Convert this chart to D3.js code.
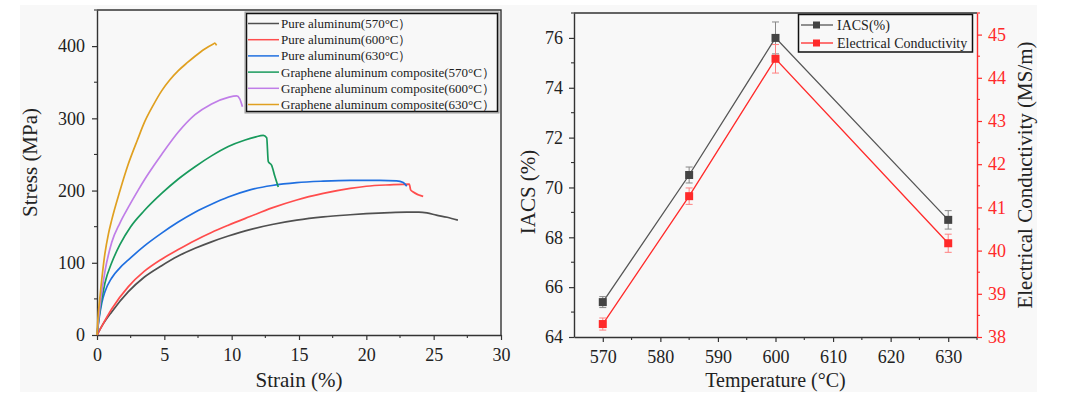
<!DOCTYPE html>
<html>
<head>
<meta charset="utf-8">
<script src="https://cdn.jsdelivr.net/npm/d3@7"></script>
<style>
  body { margin: 0; background: #fff; }
  svg { display: block; font-family: "Times New Roman", "Liberation Serif", serif; }
  svg text { font-family: "Times New Roman", "Liberation Serif", serif; }
</style>
</head>
<body>
<svg id="chart" width="1068" height="395"></svg>
<script>
// stress-strain curves, [strain %, stress MPa]
const pure570 = [[0,0],[0.35,12],[1.09,32],[2.33,60],[3.5,80],[4.8,96],[6,109],[7.28,120],[8.5,129],[9.75,137],[11.36,146],[13,153],[14.83,159],[16.8,163.5],[18.8,166.5],[20,168],[21.75,169.5],[23,170],[23.9,170],[24.5,169],[25.2,166],[26,163],[26.8,159]];
const pure600 = [[0,0],[0.35,12],[1.09,36],[2.33,67],[3.5,88],[4.8,105],[6,118],[7.28,131],[8.5,142],[9.75,152],[11.36,164],[13,176],[14.83,187],[16.8,196],[18.8,203],[20,206],[21.75,208],[23.19,209],[23.29,201],[23.48,198],[24.22,192]];
const pure630 = [[0,0],[0.15,22],[0.35,44],[0.59,60],[1.09,79],[1.7,93],[2.33,104],[3.5,123],[4.8,141],[6,156],[7.28,170],[8.5,181],[9.75,191],[11.36,201],[13,207],[14.83,211],[16.8,213],[18.8,214],[21,214],[22.25,213.5],[22.74,211],[23.0,206]];
const gr570 = [[0,0],[0.2,32],[0.59,72],[1.09,100],[1.7,125],[2.5,150],[3.5,172],[4.8,196],[6.04,216],[7.28,233],[8.5,248],[9.75,261],[11,270],[11.73,274],[12.35,276.5],[12.6,273],[12.72,240],[12.97,235],[13.2,220],[13.46,205]];
const gr600 = [[0,0],[0.25,45],[0.59,88],[1.09,128],[1.7,155],[2.33,177],[3.07,201],[3.56,216],[4.2,234],[4.8,250],[6.04,281],[7.28,305],[8.51,320],[9.75,329],[10.37,331],[10.6,327],[10.8,316]];
const gr630 = [[0,0],[0.1,30],[0.22,53],[0.59,113],[0.85,140],[1.09,159],[1.71,200],[2.33,237],[3.0,270],[3.56,296],[4.2,319],[4.8,338],[5.4,353],[6.04,366],[6.7,377],[7.28,386],[8.0,396],[8.64,403],[8.75,404],[8.88,401]];

const curveNames = ["Pure aluminum(570°C）", "Pure aluminum(600°C）", "Pure aluminum(630°C）",
  "Graphene aluminum composite(570°C）", "Graphene aluminum composite(600°C）", "Graphene aluminum composite(630°C）"];
const curveColors = ["#505050", "#ff4d4d", "#1f6fe0", "#189a5c", "#c07ee8", "#e0a020"];
const strainTicks = [0, 5, 10, 15, 20, 25, 30];
const stressTicks = [0, 100, 200, 300, 400];

// conductivity vs temperature
const temps = [570, 585, 600, 630];
const iacs = [65.4, 70.5, 76.0, 68.7];
const iacsErr = [0.22, 0.32, 0.64, 0.37];
const ec = [38.3, 41.26, 44.44, 40.17];
const ecErr = [0.14, 0.19, 0.33, 0.21];
const tempTicks = [570, 580, 590, 600, 610, 620, 630];
const iacsTicks = [64, 66, 68, 70, 72, 74, 76];
const ecTicks = [38, 39, 40, 41, 42, 43, 44, 45];

const svg = d3.select("#chart");
const axisColor = "#333";
const serif = '"Times New Roman", "Liberation Serif", serif';

svg.append("rect").attr("x", 20).attr("y", 5).attr("width", 1017).attr("height", 387).attr("fill", "#f8f8f8");

function styleAxis(g, color, fontSize) {
  g.attr("font-family", serif).attr("font-size", fontSize);
  g.select(".domain").attr("stroke", color).attr("stroke-width", 1.4);
  g.selectAll(".tick line").attr("stroke", color).attr("stroke-width", 1.2);
  g.selectAll(".tick text").attr("fill", color === axisColor ? "#222" : color)
    .attr("font-size", fontSize).attr("font-family", serif);
}
function minorTicks(g, scale, values, orient, size, color) {
  g.selectAll(null).data(values).join("line")
    .attr("stroke", color).attr("stroke-width", 1.1)
    .each(function (v) {
      const p = scale(v);
      const s = d3.select(this);
      if (orient === "bottom") s.attr("x1", p).attr("x2", p).attr("y1", 0).attr("y2", size);
      if (orient === "left") s.attr("y1", p).attr("y2", p).attr("x1", 0).attr("x2", -size);
      if (orient === "right") s.attr("y1", p).attr("y2", p).attr("x1", 0).attr("x2", size);
    });
}

// ---------- left chart ----------
const L = { left: 97, right: 501, top: 10, bottom: 335 };
const xS = d3.scaleLinear().domain([0, 30]).range([L.left, L.right]);
const yS = d3.scaleLinear().domain([0, 450]).range([L.bottom, L.top]);

const gx1 = svg.append("g").attr("transform", `translate(0,${L.bottom})`)
  .call(d3.axisBottom(xS).tickValues(strainTicks).tickSize(5).tickSizeOuter(0).tickPadding(8));
styleAxis(gx1, axisColor, 18);
minorTicks(gx1, xS, d3.range(2.5, 30, 5), "bottom", 3, axisColor);

const gy1 = svg.append("g").attr("transform", `translate(${L.left},0)`)
  .call(d3.axisLeft(yS).tickValues(stressTicks).tickSize(5).tickSizeOuter(0).tickPadding(7));
styleAxis(gy1, axisColor, 18);
minorTicks(gy1, yS, [50, 150, 250, 350, 450], "left", 3, axisColor);

svg.append("path").attr("fill", "none").attr("stroke", axisColor).attr("stroke-width", 1.4)
  .attr("d", `M${L.left},${L.top}H${L.right}V${L.bottom}`);

const line1 = d3.line().x(d => xS(d[0])).y(d => yS(d[1])).curve(d3.curveMonotoneX);
[pure570, pure600, pure630, gr570, gr600, gr630].forEach((data, i) => {
  svg.append("path").datum(data).attr("fill", "none")
    .attr("stroke", curveColors[i]).attr("stroke-width", 1.7).attr("d", line1);
});

// legend
const lg = svg.append("g");
lg.append("rect").attr("x", 245).attr("y", 12).attr("width", 254).attr("height", 101)
  .attr("fill", "#f8f8f8").attr("stroke", "#999").attr("stroke-width", 1);
lg.append("rect").attr("x", 246.5).attr("y", 13.5).attr("width", 251).attr("height", 98)
  .attr("fill", "none").attr("stroke", "#111").attr("stroke-width", 1.5);
curveNames.forEach((name, i) => {
  const y = 23.5 + i * 16.2;
  lg.append("line").attr("x1", 248).attr("x2", 279).attr("y1", y).attr("y2", y)
    .attr("stroke", curveColors[i]).attr("stroke-width", 1.5);
  lg.append("text").attr("x", 281).attr("y", y).attr("dy", "0.35em")
    .attr("font-size", 13).attr("fill", "#222").text(name);
});

svg.append("text").attr("x", xS(15)).attr("y", 387).attr("text-anchor", "middle")
  .attr("font-size", 21).attr("fill", "#222").text("Strain (%)");
svg.append("text").attr("transform", `translate(30,${(L.top + L.bottom) / 2 - 10}) rotate(-90)`)
  .attr("text-anchor", "middle").attr("dy", "0.35em")
  .attr("font-size", 21).attr("fill", "#222").text("Stress (MPa)");

// ---------- right chart ----------
const R = { left: 574, right: 977, top: 13, bottom: 337 };
const tS = d3.scaleLinear().domain([565, 635]).range([R.left, R.right]);
const iS = d3.scaleLinear().domain([64, 77]).range([R.bottom, R.top]);
const eS = d3.scaleLinear().domain([38, 45.5]).range([R.bottom, R.top]);
const red = "#ff2a2a";

svg.append("line").attr("x1", R.left).attr("x2", R.right).attr("y1", R.top).attr("y2", R.top)
  .attr("stroke", axisColor).attr("stroke-width", 1.4);

const gx2 = svg.append("g").attr("transform", `translate(0,${R.bottom})`)
  .call(d3.axisBottom(tS).tickValues(tempTicks).tickSize(5).tickSizeOuter(0).tickPadding(8));
styleAxis(gx2, axisColor, 18);
minorTicks(gx2, tS, d3.range(575, 640, 10), "bottom", 3, axisColor);

const gy2 = svg.append("g").attr("transform", `translate(${R.left},0)`)
  .call(d3.axisLeft(iS).tickValues(iacsTicks).tickSize(5).tickSizeOuter(0).tickPadding(6));
styleAxis(gy2, axisColor, 18);
minorTicks(gy2, iS, d3.range(65, 78, 2), "left", 3, axisColor);

const gy3 = svg.append("g").attr("transform", `translate(${R.right},0)`)
  .call(d3.axisRight(eS).tickValues(ecTicks).tickSize(5).tickSizeOuter(0).tickPadding(6));
styleAxis(gy3, red, 18);
minorTicks(gy3, eS, d3.range(38.5, 45.6, 1), "right", 3, red);

function series(vals, errs, yScale, lineColor, errColor, markColor) {
  const pts = temps.map((t, i) => ({ t, v: vals[i], e: errs[i] }));
  const g = svg.append("g");
  g.append("path").datum(pts).attr("fill", "none").attr("stroke", lineColor).attr("stroke-width", 1.3)
    .attr("d", d3.line().x(d => tS(d.t)).y(d => yScale(d.v)));
  const eb = g.selectAll(".eb").data(pts).join("g").attr("stroke", errColor).attr("stroke-width", 1);
  eb.append("line").attr("x1", d => tS(d.t)).attr("x2", d => tS(d.t))
    .attr("y1", d => yScale(d.v + d.e)).attr("y2", d => yScale(d.v - d.e));
  eb.append("line").attr("x1", d => tS(d.t) - 3.5).attr("x2", d => tS(d.t) + 3.5)
    .attr("y1", d => yScale(d.v + d.e)).attr("y2", d => yScale(d.v + d.e));
  eb.append("line").attr("x1", d => tS(d.t) - 3.5).attr("x2", d => tS(d.t) + 3.5)
    .attr("y1", d => yScale(d.v - d.e)).attr("y2", d => yScale(d.v - d.e));
  g.selectAll("rect").data(pts).join("rect")
    .attr("x", d => tS(d.t) - 4).attr("y", d => yScale(d.v) - 4)
    .attr("width", 8).attr("height", 8).attr("fill", markColor);
}
series(iacs, iacsErr, iS, "#555", "#888", "#444");
series(ec, ecErr, eS, red, "#ff8080", red);

// legend
const lg2 = svg.append("g");
lg2.append("rect").attr("x", 798.5).attr("y", 14.5).attr("width", 174).attr("height", 37.5)
  .attr("fill", "#f8f8f8").attr("stroke", "#111").attr("stroke-width", 1.5);
[["IACS(%)", "#555", "#444"], ["Electrical Conductivity", red, red]].forEach((d, i) => {
  const y = 25 + i * 18;
  lg2.append("line").attr("x1", 801).attr("x2", 833).attr("y1", y).attr("y2", y)
    .attr("stroke", d[1]).attr("stroke-width", 1.3);
  lg2.append("rect").attr("x", 813).attr("y", y - 3.5).attr("width", 7).attr("height", 7).attr("fill", d[2]);
  lg2.append("text").attr("x", 837).attr("y", y).attr("dy", "0.35em")
    .attr("font-size", 14).attr("fill", "#222").text(d[0]);
});

svg.append("text").attr("x", (R.left + R.right) / 2).attr("y", 387).attr("text-anchor", "middle")
  .attr("font-size", 20).attr("fill", "#222").text("Temperature (°C)");
svg.append("text").attr("transform", `translate(528,192) rotate(-90)`)
  .attr("text-anchor", "middle").attr("dy", "0.35em")
  .attr("font-size", 21).attr("fill", "#222").text("IACS (%)");
svg.append("text").attr("transform", `translate(1025,175) rotate(-90)`)
  .attr("text-anchor", "middle").attr("dy", "0.35em")
  .attr("font-size", 21).attr("fill", "#222").text("Electrical Conductivity (MS/m)");
</script>
</body>
</html>
